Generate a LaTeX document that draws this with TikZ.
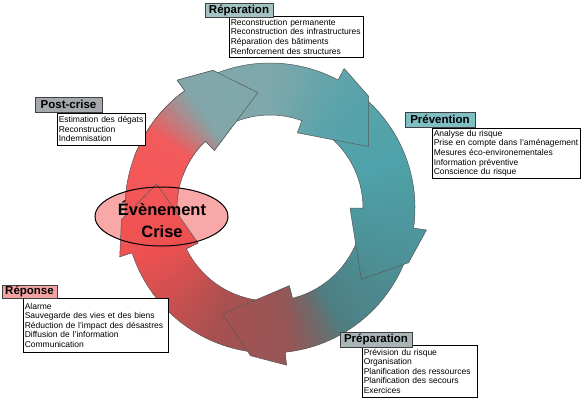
\documentclass[tikz,border=0pt]{standalone}
\usepackage{fontspec}
\setmainfont{Liberation Sans}
\usetikzlibrary{shapes.geometric,shadows}
\definecolor{cR1}{HTML}{EE5050}
\definecolor{cR2}{HTML}{F45858}
\definecolor{cR3}{HTML}{F25A5C}
\definecolor{cG1}{HTML}{82A6A9}
\definecolor{cG2}{HTML}{7EA8AC}
\definecolor{cT1}{HTML}{5AA3AA}
\definecolor{cT2}{HTML}{4EA2A9}
\definecolor{cT3}{HTML}{4D8E94}
\definecolor{cT4}{HTML}{4D7F84}
\definecolor{cM}{HTML}{6E6A6C}
\definecolor{cB1}{HTML}{965656}
\definecolor{cB2}{HTML}{A85050}
\definecolor{cB3}{HTML}{D05050}
\definecolor{crisefill}{HTML}{F9A8A8}
\definecolor{tReparation}{HTML}{A3C2C3}
\definecolor{tPost}{HTML}{A5A9AE}
\definecolor{tPrevention}{HTML}{7FBEC3}
\definecolor{tReponse}{HTML}{F4A3A3}
\definecolor{tPreparation}{HTML}{A9B6B8}
\definecolor{arrowedge}{HTML}{5A5A5A}
\newcommand\ringfill{%
  \foreach \angA/\angB/\colA/\colB in {200/165/cR1/cR2, 165/147/cR2/cR3, 147/125/cR3/cG1, 125/90/cG1/cG2, 90/55/cG2/cT1, 55/20/cT1/cT2, 20/-30/cT2/cT3, -30/-58/cT3/cT4, -58/-68/cT4/cM, -68/-82/cM/cB1, -82/-115/cB1/cB2, -115/-140/cB2/cB3, -140/-160/cB3/cR1}{%
    \pgfmathsetmacro\segw{\angA-\angB}%
    \pgfmathtruncatemacro\nseg{max(1,round(\segw/2))}%
    \foreach \kseg in {1,...,\nseg}{%
      \pgfmathsetmacro\wsA{\angA-(\kseg-1)*\segw/\nseg+0.4}%
      \pgfmathsetmacro\wsB{\angA-\kseg*\segw/\nseg-0.4}%
      \pgfmathsetmacro\wpc{100*(\kseg-0.5)/\nseg}%
      \colorlet{wedgecol}{\colB!\wpc!\colA}%
      \fill[wedgecol] (0,0) -- (\wsA:175pt) arc[start angle=\wsA, end angle=\wsB, radius=175pt] -- cycle;
    }%
  }%
}
% #1 tail angle, #2 base angle (outer barb), #3 tip angle
\newcommand\arrowshape[3]{(#1:145pt) arc[start angle=#1, end angle=#2, radius=145pt]
  -- (#2:158pt) -- ({#2-0.45*(#2-#3)}:149pt) -- (#3:116pt) -- ({#2+8}:80pt) -- ({#2+8}:93pt)
  arc[start angle={#2+8}, end angle=#1, radius=93pt] -- cycle}
\newcommand\ringarrow[3]{%
  \begin{scope}
    \clip \arrowshape{#1}{#2}{#3};
    \ringfill
  \end{scope}
  \draw[arrowline] \arrowshape{#1}{#2}{#3};
}
\begin{document}
\begin{tikzpicture}[x=1pt,y=1pt,
  arrowline/.style={draw=arrowedge, line width=0.5pt, line join=round},
  listbox/.style={draw=black, line width=0.5pt, fill=white, anchor=north west, align=left,
    inner xsep=1.5pt, inner ysep=1pt, font=\fontsize{8.5}{9.6}\selectfont,
    drop shadow={shadow xshift=1.2pt, shadow yshift=-1.2pt, fill=black!60, opacity=0.8}},
  titlebox/.style={draw=black!75, line width=0.7pt, inner sep=0pt,
    font=\fontsize{11.5}{12}\selectfont\bfseries},
  criseshape/.style={draw=black, line width=1pt, ellipse, inner sep=0pt,
    minimum width=133pt, minimum height=59pt},
  crisetext/.style={align=center, inner sep=0pt, font=\fontsize{16.5}{21.5}\selectfont\bfseries}
]
\useasboundingbox (0,0) rectangle (586,-400);
\fill[white] (0,0) rectangle (586,-400);

% ellipse fill under arrows
\fill[crisefill] (161.5,-216.5) ellipse [x radius=66.5pt, y radius=29.5pt];

% ring of arrows
\begin{scope}[shift={(270,-208)}]
  \ringarrow{196}{126}{96}    % Post-crise
  \ringarrow{276}{198}{168}   % Reponse
  \ringarrow{-12}{-84}{-114}  % Preparation
  \ringarrow{58}{-8}{-38}     % Prevention
  \ringarrow{122}{62}{32}     % Reparation
  \begin{scope}
    \clip (0,0) -- (160:200pt) arc[start angle=160, end angle=88, radius=200pt] -- cycle;
    \ringarrow{196}{126}{96}
  \end{scope}
\end{scope}

% event
\node[criseshape] (crise) at (161.5,-216.5) {};
\node[crisetext] (crisetxt) at (162,-219.5) {Évènement\\Crise};

% lists
\node[listbox, text width=131pt, minimum height=41pt] (repL) at (229,-16)
  {Reconstruction permanente\\Reconstruction des infrastructures\\Réparation des bâtiments\\Renforcement des structures};
\node[listbox, text width=85pt, minimum height=32pt] (postL) at (57,-113)
  {Estimation des dégats\\Reconstruction\\Indemnisation};
\node[listbox, text width=145pt, minimum height=50pt] (prevL) at (432,-128)
  {Analyse du risque\\Prise en compte dans l'aménagement\\Mesures éco-environementales\\Information préventive\\Conscience du risque};
\node[listbox, text width=142pt, minimum height=54pt] (repoL) at (23,-298)
  {Alarme\\Sauvegarde des vies et des biens\\Réduction de l'impact des désastres\\Diffusion de l'information\\Communication};
\node[listbox, text width=112pt, minimum height=52pt] (prepL) at (362,-345)
  {Prévision du risque\\Organisation\\Planification des ressources\\Planification des secours\\Exercices};

% titles
\node[titlebox, fill=tReparation, minimum width=68pt, minimum height=14pt] (repT) at (239,-10) {Réparation};
\node[titlebox, fill=tPost, minimum width=67pt, minimum height=15pt] (postT) at (68.5,-104.5) {Post-crise};
\node[titlebox, fill=tPrevention, minimum width=70pt, minimum height=15pt] (prevT) at (440,-119.5) {Prévention};
\node[titlebox, fill=tReponse, minimum width=55pt, minimum height=13pt] (repoT) at (29.5,-291.5) {Réponse};
\node[titlebox, fill=tPreparation, minimum width=72pt, minimum height=15pt] (prepT) at (376,-339.5) {Préparation};
\end{tikzpicture}
\end{document}
